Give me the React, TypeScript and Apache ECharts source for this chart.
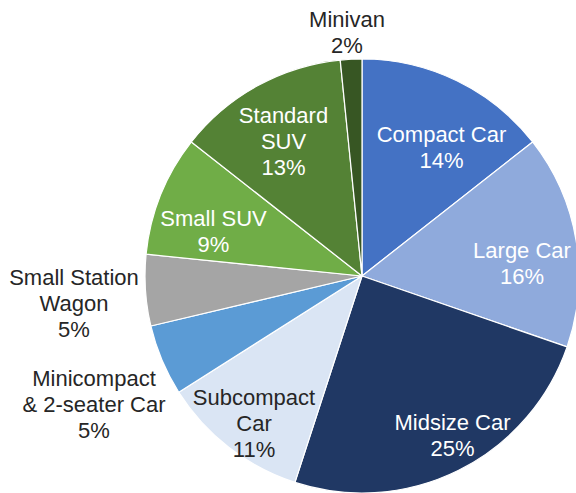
import React, { useEffect, useRef } from "react";
import * as echarts from "echarts";

// Categories (clockwise from 12 o'clock), label text uses line breaks as in the reference
const CATEGORIES = [
  "Compact Car",
  "Large Car",
  "Midsize Car",
  "Subcompact\nCar",
  "Minicompact\n& 2-seater Car",
  "Small Station\nWagon",
  "Small SUV",
  "Standard\nSUV",
  "Minivan",
];

// Share of each category (%)
const SHARES = [14.4, 15.9, 24.7, 11.0, 5.3, 5.3, 9.0, 12.8, 1.6];

// Styling (kept separate from the data)
const COLORS = [
  "#4472C4",
  "#8FAADC",
  "#203864",
  "#DAE5F4",
  "#5B9BD5",
  "#A5A5A5",
  "#70AD47",
  "#548235",
  "#375623",
];
const LABEL_COLORS = [
  "#FFFFFF",
  "#FFFFFF",
  "#FFFFFF",
  "#262626",
  "#262626",
  "#262626",
  "#FFFFFF",
  "#FFFFFF",
  "#262626",
];
// Label block centres in pixels
const LABEL_POS: [number, number][] = [
  [441.5, 147],
  [522, 263],
  [452.5, 435],
  [254, 423],
  [94, 404],
  [74, 303],
  [213.5, 231],
  [283.5, 141],
  [347, 32.5],
];

export default function App() {
  const ref = useRef<HTMLDivElement>(null);

  useEffect(() => {
    document.body.style.margin = "0";
    if (!ref.current) return;
    const chart = echarts.init(ref.current, undefined, { renderer: "svg" });
    chart.setOption({
      animation: false,
      backgroundColor: "#FFFFFF",
      series: [
        {
          type: "pie",
          center: [362, 276],
          radius: [0, 217],
          startAngle: 90,
          clockwise: true,
          avoidLabelOverlap: false,
          itemStyle: { borderColor: "#FFFFFF", borderWidth: 1.2 },
          label: {
            show: true,
            position: "inside",
            fontFamily: "'Liberation Sans', Arial, sans-serif",
            fontSize: 22,
            lineHeight: 26,
            align: "center",
            formatter: (p: any) => `${p.name}\n${Math.round(p.value)}%`,
          },
          labelLine: { show: false },
          labelLayout: (params: any) => {
            const pos = LABEL_POS[params.dataIndex];
            return {
              x: pos[0],
              y: pos[1],
              align: "center",
              verticalAlign: "middle",
            };
          },
          emphasis: { disabled: true },
          data: CATEGORIES.map((name, i) => ({
            name,
            value: SHARES[i],
            itemStyle: { color: COLORS[i] },
            label: { color: LABEL_COLORS[i] },
          })),
        },
      ],
    });
    return () => chart.dispose();
  }, []);

  return <div ref={ref} style={{ width: 576, height: 493, overflow: "hidden" }} />;
}
